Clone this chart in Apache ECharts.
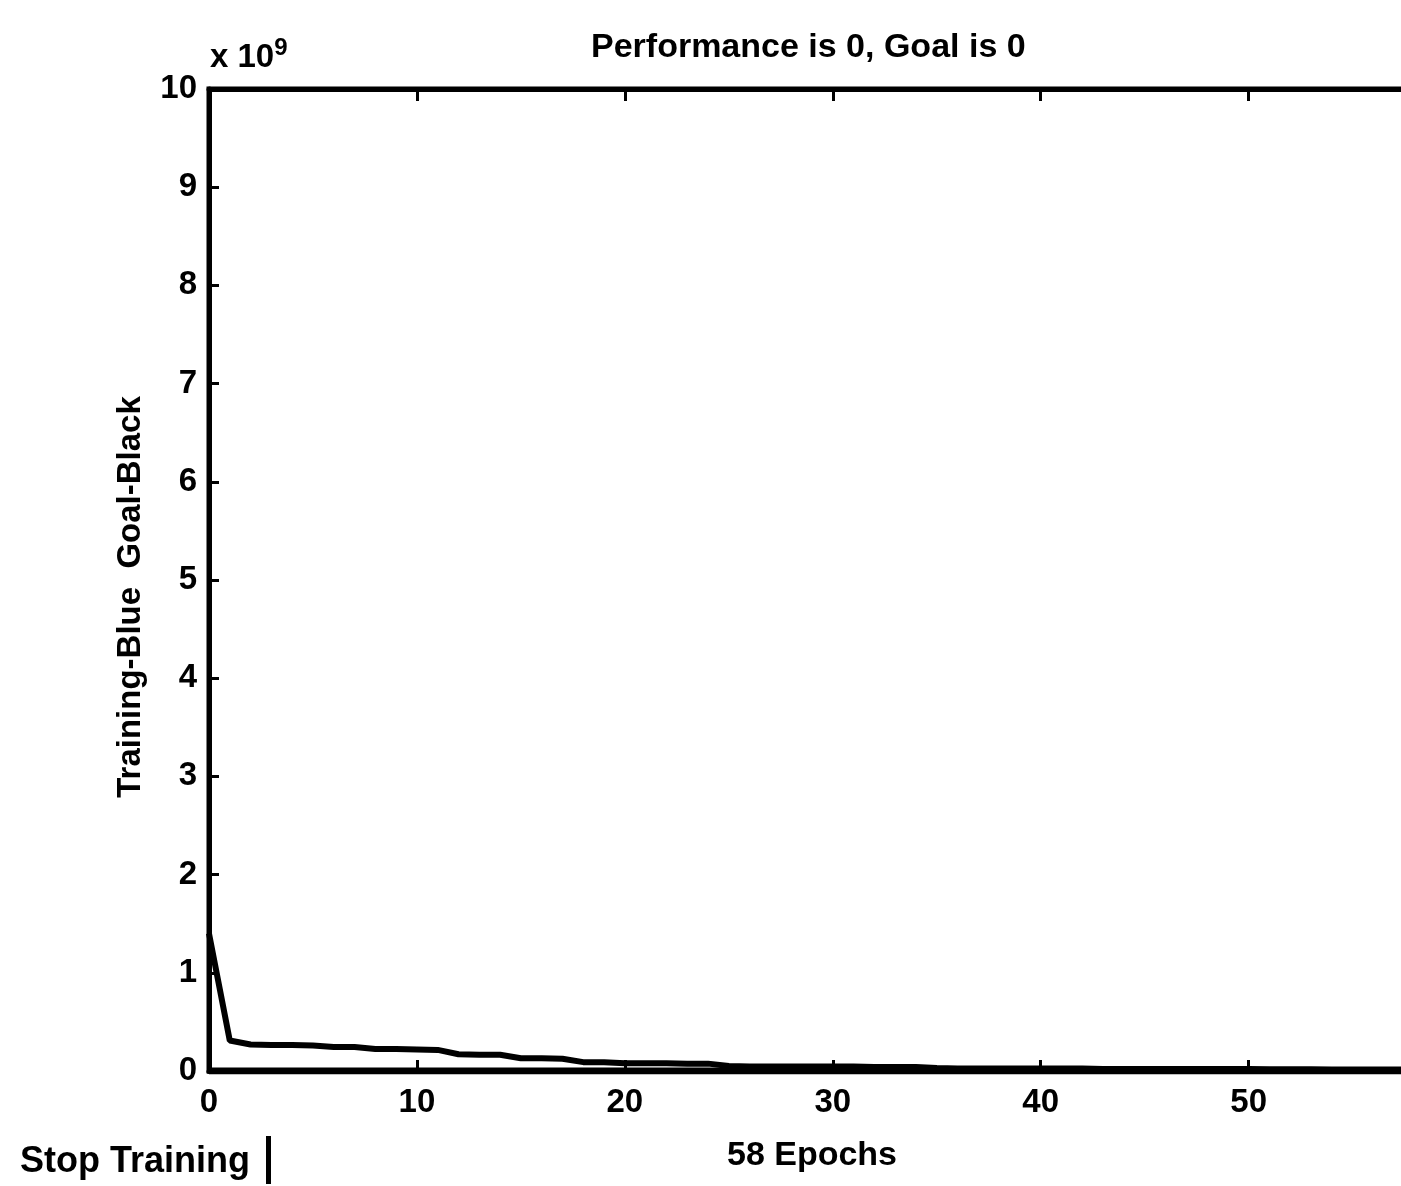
<!DOCTYPE html>
<html>
  <head>
    <meta charset="utf-8" />
    <script src="https://cdn.jsdelivr.net/npm/echarts@6/dist/echarts.min.js"></script>
    <style>
      html, body { margin: 0; padding: 0; background: #fff; }
    </style>
  </head>
  <body>
    <!-- training record plot, scanned matlab style -->
    <div id="main" style="width: 1401px;height:1186px;"></div>
    <script type="text/javascript">
// performance per epoch, in units of 1e9 (index = epoch)
var trainingPerf = [
  1.40, 0.31, 0.27, 0.265, 0.265, 0.26, 0.245, 0.245, 0.225, 0.225,
  0.22, 0.215, 0.17, 0.165, 0.165, 0.13, 0.13, 0.125, 0.09, 0.09,
  0.08, 0.08, 0.08, 0.075, 0.075, 0.05, 0.045, 0.045, 0.045, 0.045,
  0.045, 0.045, 0.04, 0.04, 0.04, 0.03, 0.025, 0.025, 0.025, 0.025,
  0.025, 0.025, 0.025, 0.02, 0.02, 0.02, 0.02, 0.02, 0.02, 0.02,
  0.02, 0.018, 0.018, 0.018, 0.015, 0.015, 0.015, 0.015, 0.015
];
var goalEpochs = [0, 58];
var goalPerf = [0, 0];

var titleText = 'Performance is 0, Goal is 0';
var yName = 'Training-Blue  Goal-Black';
var xName = '58 Epochs';
var buttonText = 'Stop Training';

var font = 'Liberation Sans';

var trainData = trainingPerf.map(function (v, i) { return [i, v]; });
var goalData = goalEpochs.map(function (e, i) { return [e, goalPerf[i]]; });

var myChart = echarts.init(document.getElementById('main'));

var option = {
  backgroundColor: '#fff',
  animation: false,
  textStyle: { fontFamily: font, color: '#000' },
  title: {
    text: titleText,
    left: 586,
    top: 26,
    textStyle: { fontFamily: font, fontWeight: 'bold', fontSize: 34, color: '#000' }
  },
  grid: {
    left: 209, right: -14, top: 89, bottom: 115,
    show: true, borderColor: '#000', borderWidth: 5,
    outerBoundsMode: 'none'
  },
  xAxis: [{
    type: 'value', min: 0, max: 58, interval: 10,
    name: xName, nameLocation: 'middle', nameGap: 68,
    nameTextStyle: { fontFamily: font, fontWeight: 'bold', fontSize: 34, color: '#000' },
    axisLine: { lineStyle: { color: '#000', width: 5 } },
    axisTick: { inside: true, length: 11, lineStyle: { color: '#000', width: 3 } },
    axisLabel: { showMaxLabel: false, margin: 15, fontFamily: font, fontWeight: 'bold', fontSize: 33, color: '#000' },
    splitLine: { show: false }
  }, {
    type: 'value', min: 0, max: 58, interval: 10, position: 'top',
    axisLine: { lineStyle: { color: '#000', width: 5 } },
    axisTick: { inside: true, length: 12, lineStyle: { color: '#000', width: 3 } },
    axisLabel: { show: false },
    splitLine: { show: false }
  }],
  yAxis: {
    type: 'value', min: 0, max: 10, interval: 1,
    axisLine: { show: true, lineStyle: { color: '#000', width: 5 } },
    axisTick: { show: true, inside: true, length: 10, lineStyle: { color: '#000', width: 3 } },
    axisLabel: { margin: 12, fontFamily: font, fontWeight: 'bold', fontSize: 33, color: '#000' },
    splitLine: { show: false }
  },
  graphic: [
    {
      type: 'text', x: 131, y: 597, rotation: Math.PI / 2,
      style: {
        text: yName, fontFamily: font, fontWeight: 'bold', fontSize: 33, fill: '#000',
        align: 'center', verticalAlign: 'middle'
      }
    },
    {
      type: 'text', left: 210, top: 36,
      style: {
        text: '{b|x 10}{s|9}',
        rich: {
          b: { fontFamily: font, fontWeight: 'bold', fontSize: 33, fill: '#000' },
          s: { fontFamily: font, fontWeight: 'bold', fontSize: 24, fill: '#000', verticalAlign: 'top', padding: [0, 0, 20, 0] }
        }
      }
    },
    {
      type: 'text', left: 20, top: 1144,
      style: { text: buttonText, fontFamily: font, fontWeight: 'bold', fontSize: 36, fill: '#000' }
    },
    {
      type: 'rect', left: 266, top: 1136,
      shape: { width: 5, height: 48 },
      style: { fill: '#000' }
    }
  ],
  series: [
    {
      name: 'Training', type: 'line', data: trainData,
      showSymbol: false, lineStyle: { color: '#000', width: 6 }
    },
    {
      name: 'Goal', type: 'line', data: goalData,
      showSymbol: false, lineStyle: { color: '#000', width: 7 }
    }
  ]
};

myChart.setOption(option);
    </script>
  </body>
</html>
